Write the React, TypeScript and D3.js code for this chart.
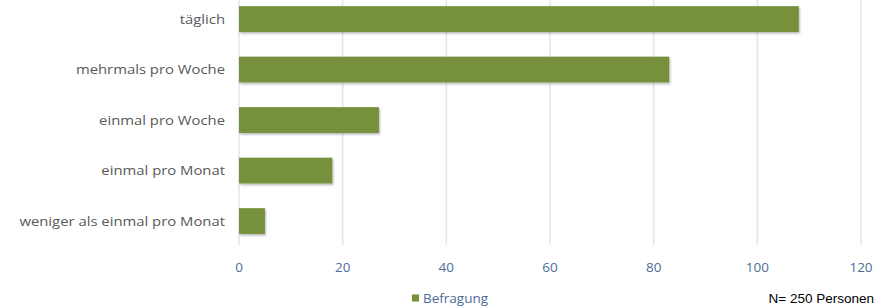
import * as d3 from "d3"
import { useRef, useEffect } from "react"

const categories = [
  "täglich",
  "mehrmals pro Woche",
  "einmal pro Woche",
  "einmal pro Monat",
  "weniger als einmal pro Monat",
]
const values = [108, 83, 27, 18, 5]
const ticks = [0, 20, 40, 60, 80, 100, 120]
const seriesName = "Befragung"
const note = "N= 250 Personen"

export default function App() {
  const ref = useRef<SVGSVGElement>(null)

  useEffect(() => {
    const width = 896
    const height = 307
    const marginLeft = 239
    const marginRight = 35
    const plotBottom = 245

    const svg = d3.select(ref.current)
    svg.selectAll("*").remove()
    svg.attr("width", width).attr("height", height)

    const x = d3.scaleLinear()
      .domain([0, 120])
      .range([marginLeft, width - marginRight])

    const y = d3.scaleBand()
      .domain(categories)
      .range([-6.2, 246.3])
      .paddingInner(0.49)
      .paddingOuter(0.245)

    const defs = svg.append("defs")
    const f = defs.append("filter").attr("id", "shadow")
      .attr("x", "-5%").attr("y", "-20%").attr("width", "110%").attr("height", "150%")
    f.append("feDropShadow")
      .attr("dx", 1).attr("dy", 1.5).attr("stdDeviation", 1)
      .attr("flood-color", "#000").attr("flood-opacity", 0.3)

    // gridlines
    svg.append("g")
      .selectAll("line")
      .data(ticks)
      .join("line")
      .attr("x1", d => x(d))
      .attr("x2", d => x(d))
      .attr("y1", 0)
      .attr("y2", plotBottom)
      .attr("stroke", "#dde7f3")
      .attr("stroke-width", 1.5)

    // bars
    svg.append("g")
      .attr("fill", "#77903b")
      .selectAll("rect")
      .data(values)
      .join("rect")
      .attr("x", x(0))
      .attr("y", (d, i) => y(categories[i])!)
      .attr("width", d => x(d) - x(0))
      .attr("height", y.bandwidth())
      .attr("filter", "url(#shadow)")

    // category labels
    svg.append("g")
      .selectAll("text")
      .data(categories)
      .join("text")
      .attr("transform", d => `translate(225,${y(d)! + y.bandwidth() / 2}) scale(1.1,1)`)
      .attr("dy", "0.35em")
      .attr("text-anchor", "end")
      .attr("font-family", "Open Sans")
      .attr("font-size", 13.5)
      .attr("fill", "#595959")
      .text(d => d)

    // tick labels
    svg.append("g")
      .selectAll("text")
      .data(ticks)
      .join("text")
      .attr("x", d => x(d))
      .attr("y", 267)
      .attr("dy", "0.35em")
      .attr("text-anchor", "middle")
      .attr("font-family", "Open Sans")
      .attr("font-size", 13.5)
      .attr("fill", "#4e6c98")
      .text(d => d)

    // legend
    const legend = svg.append("g").attr("transform", "translate(412,298)")
    legend.append("rect")
      .attr("x", 0).attr("y", -3.5).attr("width", 7).attr("height", 7)
      .attr("fill", "#77903b")
    legend.append("text")
      .attr("x", 11).attr("y", 0).attr("dy", "0.35em")
      .attr("font-family", "Open Sans")
      .attr("font-size", 13.5)
      .attr("fill", "#4e6c98")
      .text(seriesName)

    svg.append("text")
      .attr("x", 874).attr("y", 298).attr("dy", "0.35em")
      .attr("text-anchor", "end")
      .attr("font-family", "Liberation Sans")
      .attr("font-size", 13.5)
      .attr("fill", "#000")
      .text(note)
  }, [])

  return (
    <div style={{ position: "absolute", left: 0, top: 0 }}>
      <svg ref={ref}></svg>
    </div>
  )
}
